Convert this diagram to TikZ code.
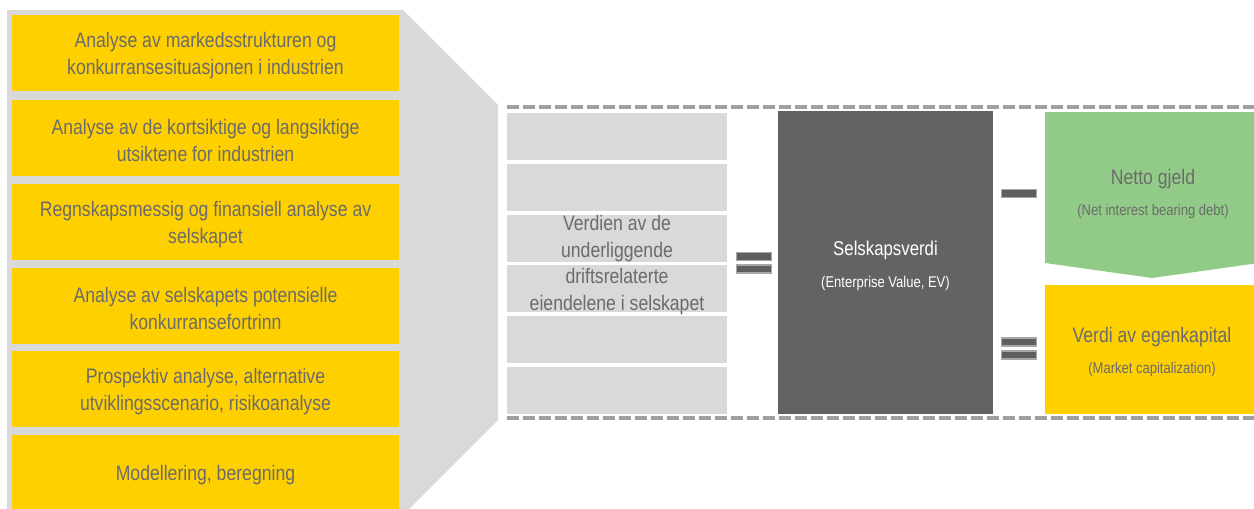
\documentclass[tikz,border=0pt]{standalone}
\usepackage{fontspec}
\setmainfont{Liberation Sans}[FakeStretch=0.84]
\definecolor{ylw}{HTML}{FFD000}
\definecolor{lgray}{HTML}{D9D9D9}
\definecolor{dgray}{HTML}{636363}
\definecolor{tgray}{HTML}{6B6B6B}
\definecolor{dashc}{HTML}{A0A0A0}
\definecolor{grn}{HTML}{92CB87}
\definecolor{barfill}{HTML}{5F5F5F}
\definecolor{barline}{HTML}{A8A8A8}
\tikzset{
  ybox/.style={fill=ylw, minimum width=387pt, minimum height=76pt, inner sep=0pt},
  gbox/.style={fill=lgray, minimum width=220pt, minimum height=47pt, inner sep=0pt},
  bar/.style={fill=barfill, draw=barline, line width=1.4pt, minimum width=34.5pt, minimum height=8pt, inner sep=0pt},
  bigtxt/.style={text=tgray, font=\fontsize{21}{26.5}\selectfont, inner sep=0pt, align=center},
  smalltxt/.style={text=tgray, font=\fontsize{15.5}{18}\selectfont, inner sep=0pt},
  dashline/.style={draw=dashc, line width=3.5pt, dash pattern=on 12pt off 4pt},
}
\begin{document}
\begin{tikzpicture}[x=1pt,y=-1pt]
\clip (0,0) rectangle (1254,509);
\useasboundingbox (0,0) rectangle (1254,509);
% funnel background
\fill[lgray] (7,10) -- (403,10) -- (498,105) -- (498,420) -- (409,509) -- (7,509) -- cycle;
% left boxes
\node[ybox] (a1) at (205.5,53) {};
\node[ybox] (a2) at (205.5,138) {};
\node[ybox] (a3) at (205.5,222) {};
\node[ybox] (a4) at (205.5,306) {};
\node[ybox] (a5) at (205.5,389) {};
\node[ybox] (a6) at (205.5,473) {};
\node[bigtxt] (t1) at ([yshift=-2.5pt]a1.center) {Analyse av markedsstrukturen og\\konkurransesituasjonen i industrien};
\node[bigtxt] (t2) at ([yshift=-2.5pt]a2.center) {Analyse av de kortsiktige og langsiktige\\utsiktene for industrien};
\node[bigtxt] (t3) at ([yshift=-2.5pt]a3.center) {Regnskapsmessig og finansiell analyse av\\selskapet};
\node[bigtxt] (t4) at ([yshift=-2.5pt]a4.center) {Analyse av selskapets potensielle\\konkurransefortrinn};
\node[bigtxt] (t5) at ([yshift=-2.5pt]a5.center) {Prospektiv analyse, alternative\\utviklingsscenario, risikoanalyse};
\node[bigtxt] (t6) at ([yshift=-2pt]a6.center) {Modellering, beregning};
% middle gray boxes
\node[gbox] (g1) at (617,136.5) {};
\node[gbox] (g2) at (617,187.3) {};
\node[gbox] (g3) at (617,238.1) {};
\node[gbox] (g4) at (617,288.9) {};
\node[gbox] (g5) at (617,339.7) {};
\node[gbox] (g6) at (617,390.5) {};
\node[bigtxt] (gt) at (617,265) {Verdien av de\\underliggende\\driftsrelaterte\\eiendelene i selskapet};
% dashed lines
\coordinate (d1a) at (507,107);
\coordinate (d1b) at (1256,107);
\coordinate (d2a) at (507,418);
\coordinate (d2b) at (1256,418);
\draw[dashline] (d1a) -- (d1b);
\draw[dashline] (d2a) -- (d2b);
% equals 1
\node[bar] (e1a) at (754,256.5) {};
\node[bar] (e1b) at (754,269) {};
% enterprise value box
\node[fill=dgray, minimum width=215pt, minimum height=303pt, inner sep=0pt] (ev) at (885.5,262.5) {};
\node[text=white, font=\fontsize{20}{24}\selectfont, inner sep=0pt] (evt) at (885.5,250) {Selskapsverdi};
\node[text=white, font=\fontsize{15.5}{18}\selectfont, inner sep=0pt] (evs) at (885.5,283) {(Enterprise Value, EV)};
% minus
\node[bar] (m1) at (1019,193.5) {};
% equals 2
\node[bar] (e2a) at (1019,342) {};
\node[bar] (e2b) at (1019,355) {};
% green net debt shape
\fill[grn] (1045,112) -- (1259,112) -- (1259,263) -- (1152,278) -- (1045,263) -- cycle;
\node[bigtxt] (nd) at (1153,179) {Netto gjeld};
\node[smalltxt] (nds) at (1153,211) {(Net interest bearing debt)};
% equity box
\node[fill=ylw, minimum width=214pt, minimum height=129pt, inner sep=0pt] (eq) at (1152,349.5) {};
\node[bigtxt] (eqt) at (1152,337) {Verdi av egenkapital};
\node[smalltxt] (eqs) at (1152,369) {(Market capitalization)};
\end{tikzpicture}
\end{document}
